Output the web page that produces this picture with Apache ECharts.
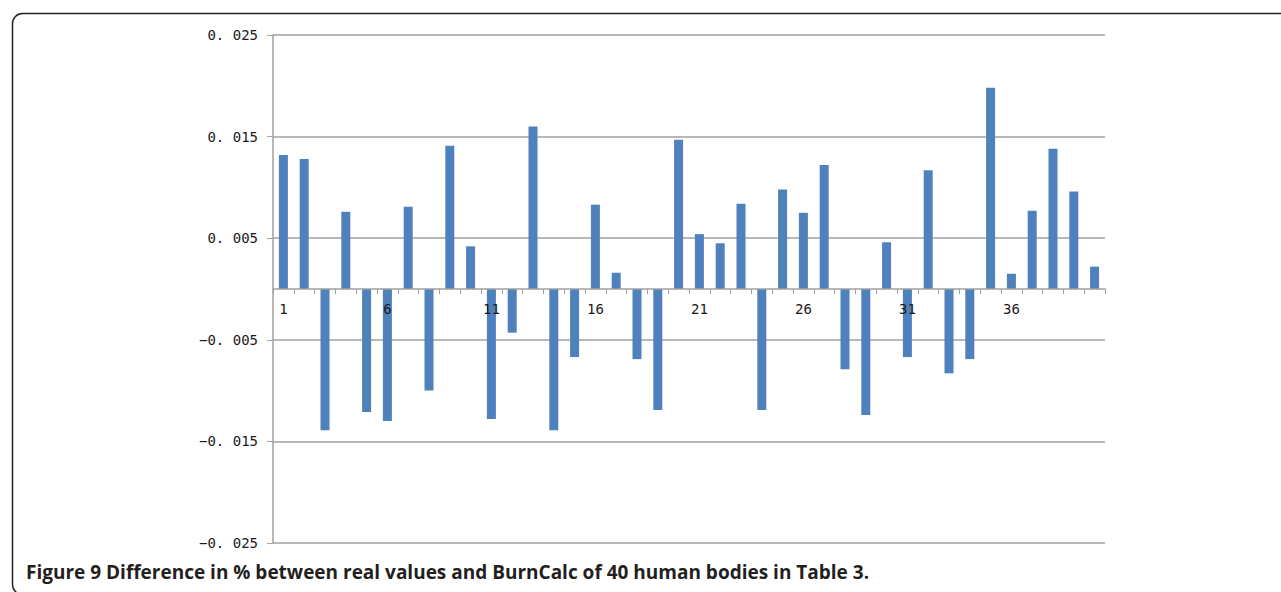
<!DOCTYPE html>
<html>
<head>
<meta charset="utf-8">
<script src="https://cdn.jsdelivr.net/npm/echarts@6/dist/echarts.min.js"></script>
<style>
  html, body { margin: 0; padding: 0; background: #fff; }
  #chart { width: 1281px; height: 592px; }
</style>
</head>
<body>
<div id="chart"></div>
<script>
// bodies 1..40
var bodies = [];
for (var i = 1; i <= 40; i++) bodies.push(String(i));

// difference values
var diffs = [
  0.0132, 0.0128, -0.0139, 0.0076, -0.0121, -0.0130, 0.0081, -0.0100, 0.0141, 0.0042,
  -0.0128, -0.0043, 0.0160, -0.0139, -0.0067, 0.0083, 0.0016, -0.0069, -0.0119, 0.0147,
  0.0054, 0.0045, 0.0084, -0.0119, 0.0098, 0.0075, 0.0122, -0.0079, -0.0124, 0.0046,
  -0.0067, 0.0117, -0.0083, -0.0069, 0.0198, 0.0015, 0.0077, 0.0138, 0.0096, 0.0022
];

var yMin = -0.025, yMax = 0.025, yStep = 0.01;
var caption = 'Figure 9 Difference in % between real values and BurnCalc of 40 human bodies in Table 3.';

var gridColor = '#a0a0a0';
var barColor = '#4f81bd';
var labelColor = '#1a1a1a';

var gridTop = 35, gridBottom = 49, chartH = 592;
// the x axis sits on the zero line, half way down the plot
var zeroOffset = -(chartH - gridTop - gridBottom) / 2;

var chart = echarts.init(document.getElementById('chart'), null, { renderer: 'svg' });
chart.setOption({
  animation: false,
  grid: { left: 273, right: 176, top: gridTop, bottom: gridBottom },
  xAxis: {
    type: 'category',
    data: bodies,
    offset: zeroOffset,
    z: 5,
    axisLine: { onZero: false, lineStyle: { color: gridColor, width: 1.5 } },
    axisTick: { show: true, interval: 0, length: 5, lineStyle: { color: gridColor } },
    axisLabel: {
      interval: 4,
      color: labelColor,
      fontFamily: 'DejaVu Sans Mono',
      fontSize: 14,
      margin: 13
    },
    splitLine: { show: false }
  },
  yAxis: {
    type: 'value',
    min: yMin,
    max: yMax,
    interval: yStep,
    axisLine: { show: true, lineStyle: { color: gridColor, width: 1.5 } },
    axisTick: { show: true, length: 6, lineStyle: { color: gridColor } },
    axisLabel: {
      color: labelColor,
      fontFamily: 'DejaVu Sans Mono',
      fontSize: 14,
      margin: 15,
      formatter: function(v) {
        var s = Math.abs(v).toFixed(3).replace('.', '. ');
        return (v < 0 ? '\u2212' : '') + s;
      }
    },
    splitLine: { lineStyle: { color: gridColor, width: 1.5 } }
  },
  series: [{
    type: 'bar',
    data: diffs,
    barWidth: 9,
    itemStyle: { color: barColor }
  }],
  graphic: [
    {
      type: 'rect',
      left: 10,
      top: 11,
      shape: { width: 1300, height: 581, r: 10 },
      style: { fill: 'none', stroke: '#222', lineWidth: 1.5 },
      silent: true
    },
    {
      type: 'text',
      left: 26,
      top: 562,
      style: {
        text: caption,
        fill: '#231f20',
        font: 'bold 19px "Open Sans", sans-serif'
      }
    }
  ]
});
window.addEventListener('resize', function() { chart.resize(); });
</script>
</body>
</html>
